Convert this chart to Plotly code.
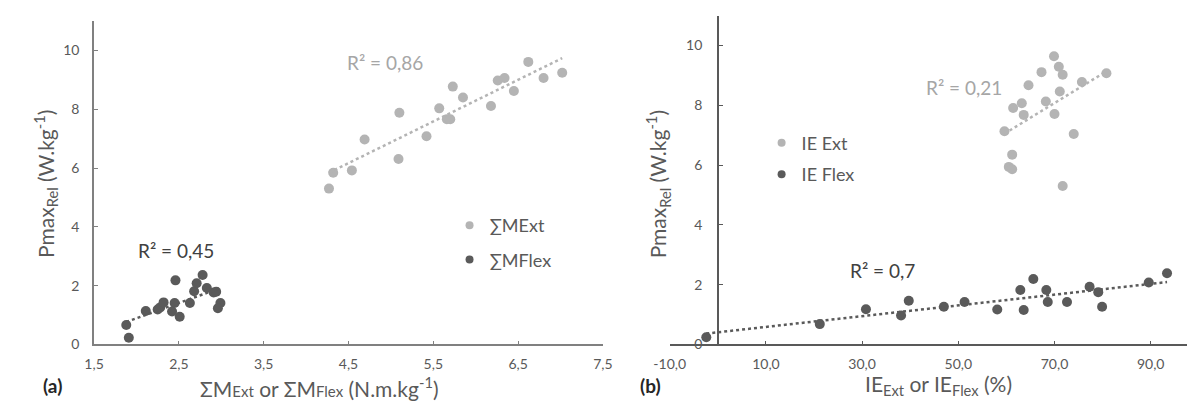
import numpy as np
import plotly.graph_objects as go

# ---------------- data: panel (a) ----------------
m_ext_x = [4.27, 4.32, 4.54, 4.69, 5.09, 5.10, 5.42, 5.57, 5.66, 5.70, 5.73, 5.85, 6.18, 6.26, 6.34, 6.45, 6.62, 6.80, 7.02]
m_ext_y = [5.30, 5.84, 5.92, 6.97, 6.31, 7.88, 7.08, 8.03, 7.66, 7.66, 8.77, 8.40, 8.11, 8.98, 9.06, 8.62, 9.61, 9.06, 9.24]
m_flex_x = [1.88, 1.91, 2.11, 2.25, 2.28, 2.32, 2.42, 2.45, 2.46, 2.51, 2.63, 2.68, 2.71, 2.78, 2.83, 2.91, 2.94, 2.99, 2.96]
m_flex_y = [0.66, 0.23, 1.14, 1.19, 1.26, 1.43, 1.12, 1.41, 2.18, 0.94, 1.41, 1.81, 2.08, 2.36, 1.92, 1.77, 1.79, 1.41, 1.23]

# ---------------- data: panel (b) ----------------
ie_ext_x = [69.9, 70.9, 71.7, 67.3, 64.6, 75.7, 80.8, 71.1, 68.2, 61.4, 63.2, 63.6, 70.0, 59.6, 74.0, 61.2, 60.5, 61.2, 71.7]
ie_ext_y = [9.64, 9.29, 9.02, 9.11, 8.67, 8.78, 9.07, 8.46, 8.13, 7.91, 8.07, 7.68, 7.71, 7.13, 7.04, 6.35, 5.94, 5.86, 5.30]
ie_flex_x = [-2.4, 21.2, 30.8, 38.1, 39.7, 47.0, 51.3, 58.1, 62.9, 63.6, 65.6, 68.3, 68.6, 72.6, 77.3, 79.1, 79.9, 89.6, 93.4]
ie_flex_y = [0.24, 0.68, 1.18, 0.97, 1.46, 1.26, 1.42, 1.17, 1.82, 1.15, 2.19, 1.82, 1.42, 1.42, 1.93, 1.75, 1.26, 2.07, 2.38]

r2_labels = ["R² = 0,86", "R² = 0,45", "R² = 0,21", "R² = 0,7"]
legend_a = ["∑MExt", "∑MFlex"]
legend_b = ["IE Ext", "IE Flex"]

left_xticks = [1.5, 2.5, 3.5, 4.5, 5.5, 6.5, 7.5]
left_xlabels = ["1,5", "2,5", "3,5", "4,5", "5,5", "6,5", "7,5"]
right_xticks = [-10, 10, 30, 50, 70, 90]
right_xlabels = ["-10,0", "10,0", "30,0", "50,0", "70,0", "90,0"]
yticks = [0, 2, 4, 6, 8, 10]

C_EXT = "#b4b4b4"
C_FLEX = "#5a5a5a"
TXT = "#595959"
FONT = "Lato"
W, H = 1195, 401


def trend(x, y):
    a, b = np.polyfit(x, y, 1)
    xs = np.array([min(x), max(x)])
    return xs, a * xs + b


fig = go.Figure()


def add_panel(xd, yd, col, name, xa, ya, leg):
    fig.add_trace(go.Scatter(x=xd, y=yd, mode="markers", xaxis=xa, yaxis=ya,
                             marker=dict(color=col, size=10), showlegend=False))
    tx, ty = trend(xd, yd)
    fig.add_trace(go.Scatter(x=tx, y=ty, mode="lines", xaxis=xa, yaxis=ya,
                             line=dict(color=col, width=2.5, dash="dot"), showlegend=False))
    fig.add_trace(go.Scatter(x=[None], y=[None], mode="markers", xaxis=xa, yaxis=ya,
                             marker=dict(color=col, size=8), name=name, legend=leg,
                             legendgroup=name, showlegend=True))


add_panel(m_ext_x, m_ext_y, C_EXT, legend_a[0], "x", "y", "legend")
add_panel(m_flex_x, m_flex_y, C_FLEX, legend_a[1], "x", "y", "legend")
add_panel(ie_ext_x, ie_ext_y, C_EXT, legend_b[0], "x2", "y2", "legend2")
add_panel(ie_flex_x, ie_flex_y, C_FLEX, legend_b[1], "x2", "y2", "legend2")

axis_common = dict(showgrid=False, zeroline=False, showline=True, linewidth=1.5,
                   ticks="inside", ticklen=4, tickwidth=1.2,
                   tickfont=dict(family=FONT, size=14, color=TXT))

fig.update_layout(
    width=W, height=H,
    margin=dict(l=0, r=0, t=0, b=0),
    paper_bgcolor="white", plot_bgcolor="white",
    font=dict(family=FONT, color=TXT),
    xaxis=dict(domain=[71.6 / W, 591.8 / W], range=[1.5, 7.5], anchor="y",
               tickvals=left_xticks, ticktext=left_xlabels, linecolor="#808080",
               tickcolor="#808080", ticklabelstandoff=6, **axis_common),
    yaxis=dict(domain=[(H - 343.3) / H, (H - 13.3) / H], range=[0, 11], anchor="x",
               tickvals=yticks, linecolor="#808080", tickcolor="#808080",
               ticklabelstandoff=10, **axis_common),
    xaxis2=dict(domain=[660.1 / W, 1.0], range=[-10, 98.8], anchor="y2",
                tickvals=right_xticks, ticktext=right_xlabels, linecolor="#595959",
                tickcolor="#595959", ticklabelstandoff=6, **axis_common),
    yaxis2=dict(domain=[(H - 343.3) / H, (H - 7.8) / H], range=[0, 11], anchor="free",
                position=709.3 / W, tickvals=yticks, linecolor="#595959",
                tickcolor="#595959", ticklabelstandoff=12, **axis_common),
    legend=dict(x=435 / W, y=(H - 203) / H, xanchor="left", yanchor="top",
                font=dict(family=FONT, size=18, color=TXT), tracegroupgap=8,
                bgcolor="rgba(0,0,0,0)"),
    legend2=dict(x=754 / W, y=(H - 119) / H, xanchor="left", yanchor="top",
                 font=dict(family=FONT, size=18, color=TXT), tracegroupgap=5,
                 bgcolor="rgba(0,0,0,0)"),
)

ann = []
# R² labels
ann.append(dict(x=369 / W, y=(H - 56) / H, text=r2_labels[0], font=dict(size=19, color="#a6a6a6")))
ann.append(dict(x=155 / W, y=(H - 247) / H, text=r2_labels[1], font=dict(size=19, color="#404040")))
ann.append(dict(x=961 / W, y=(H - 81) / H, text=r2_labels[2], font=dict(size=19, color="#a6a6a6")))
ann.append(dict(x=878 / W, y=(H - 268) / H, text=r2_labels[3], font=dict(size=19, color="#404040")))
# axis titles
ann.append(dict(x=302 / W, y=(H - 387) / H,
                text="ΣM<span style='font-size:15px'>Ext</span> or ΣM<span style='font-size:15px'>Flex</span> (N.m.kg<sup>-1</sup>)",
                font=dict(size=21, color=TXT)))
ann.append(dict(x=935 / W, y=(H - 385) / H, text="IE<sub>Ext</sub> or IE<sub>Flex</sub> (%)",
                font=dict(size=21, color=TXT)))
ann.append(dict(x=22 / W, y=(H - 180) / H, text="Pmax<sub>Rel</sub> (W.kg<sup>-1</sup>)",
                textangle=-90, font=dict(size=21, color=TXT)))
ann.append(dict(x=648 / W, y=(H - 180) / H, text="Pmax<sub>Rel</sub> (W.kg<sup>-1</sup>)",
                textangle=-90, font=dict(size=21, color=TXT)))
# panel labels
ann.append(dict(x=29 / W, y=(H - 385) / H, text="<b>(a)</b>", font=dict(size=19, color="#262626")))
ann.append(dict(x=640 / W, y=(H - 385) / H, text="<b>(b)</b>", font=dict(size=19, color="#262626")))

for a in ann:
    a.update(xref="paper", yref="paper", showarrow=False, xanchor="center", yanchor="middle")
    a["font"]["family"] = FONT
fig.update_layout(annotations=ann)

fig.write_html("out.html")
